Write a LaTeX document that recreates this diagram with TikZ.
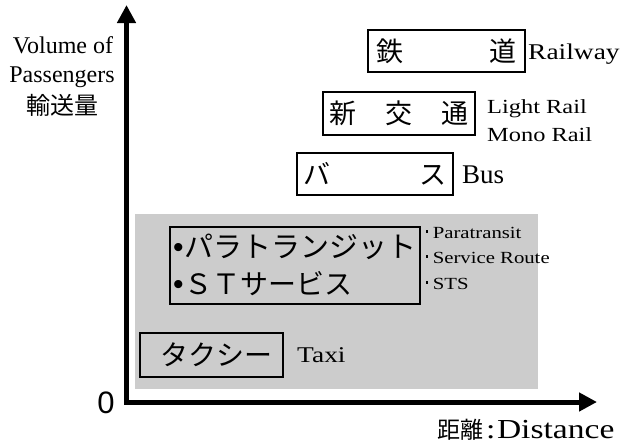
\documentclass[tikz,border=0pt]{standalone}
\usepackage{fontspec}
\setmainfont{Liberation Serif}
\newfontfamily\wideserif{Liberation Serif}[FakeStretch=1.22]
\newfontfamily\cjk{Noto Sans CJK JP}
\newfontfamily\sansf{Liberation Sans}
\usetikzlibrary{arrows.meta}
\definecolor{greyzone}{HTML}{CCCCCC}
\newcommand{\fsz}[1]{\fontsize{#1}{#1}\selectfont}
\newcommand{\smalldot}{\rule[5.5pt]{2.6pt}{2.6pt}\hspace{4.5pt}}
\begin{document}
\begin{tikzpicture}[x=1pt,y=-1pt,
  modebox/.style={draw, line width=2pt, inner sep=0pt, font=\cjk\fsz{27}},
  lbl/.style={inner sep=0pt, anchor=base west},
  ylbl/.style={inner sep=0pt, anchor=base, font=\fsz{24}},
  axisline/.style={line width=5pt, line join=miter,
    {Triangle[length=18pt,width=18pt]}-{Triangle[length=18pt,width=18pt]}}]
\useasboundingbox (0,0) rectangle (623,445);

% grey zone
\fill[greyzone] (135,214) rectangle (538,389);

% axes
\coordinate (ytip) at (126.5,5);
\coordinate (origin) at (126.5,402);
\coordinate (xtip) at (597,402);
\draw[axisline] (ytip) -- (origin) -- (xtip);
\node[inner sep=0pt, font=\sansf\fsz{31}] (zero) at (106,403) {0};

% axis labels
\node[ylbl] (vol) at (63,53) {Volume of};
\node[ylbl] (pass) at (62,82) {Passengers};
\node[inner sep=0pt, font=\cjk\fsz{24}] (yuso) at (62,105) {輸送量};
\node[lbl, font=\fsz{23}] (dist) at (437,438)
  {{\cjk 距離}\hspace{3pt}{\wideserif\fsz{27.5}:\hspace{1.5pt}Distance}};

% railway
\node[modebox, minimum width=157pt, minimum height=42pt] (rail) at (446.5,51)
  {鉄\hspace{86pt}道};
\node[lbl, font=\wideserif\fsz{22.5}] (railt) at (528,59) {Railway};

% new transit
\node[modebox, minimum width=152pt, minimum height=43pt] (newt) at (399,113.5)
  {新\hspace{29pt}交\hspace{29pt}通};
\node[lbl, font=\wideserif\fsz{20}] (lrt) at (487,113) {Light Rail};
\node[lbl, font=\wideserif\fsz{20}] (mono) at (487,141) {Mono Rail};

% bus
\node[modebox, minimum width=156pt, minimum height=42pt] (bus) at (375,174)
  {バ\hspace{89pt}ス};
\node[lbl, font=\fsz{27}] (bust) at (462,183) {Bus};

% paratransit
\node[draw, line width=2pt, minimum width=250pt, minimum height=77pt, inner sep=0pt] (para) at (295,265.5) {};
\node[inner sep=0pt, anchor=west, font=\cjk\fsz{29}] (p1) at (173,247)
  {{\sansf\fsz{30}•}\hspace{1pt}パラトランジット};
\node[inner sep=0pt, anchor=west, font=\cjk\fsz{28}] (p2) at (173,284)
  {{\sansf\fsz{30}•}\hspace{1pt}ＳＴサービス};
\node[lbl, font=\wideserif\fsz{17}] (pt1) at (425.5,238) {\smalldot Paratransit};
\node[lbl, font=\wideserif\fsz{17}] (pt2) at (425.5,263) {\smalldot Service Route};
\node[lbl, font=\wideserif\fsz{17}] (pt3) at (425.5,289) {\smalldot STS};

% taxi
\node[modebox, font=\cjk\fsz{28}, minimum width=143pt, minimum height=44pt] (taxi) at (211.5,355)
  {\hspace{10pt}タクシー};
\node[lbl, font=\wideserif\fsz{22.5}] (taxit) at (297,362) {Taxi};
\end{tikzpicture}
\end{document}
